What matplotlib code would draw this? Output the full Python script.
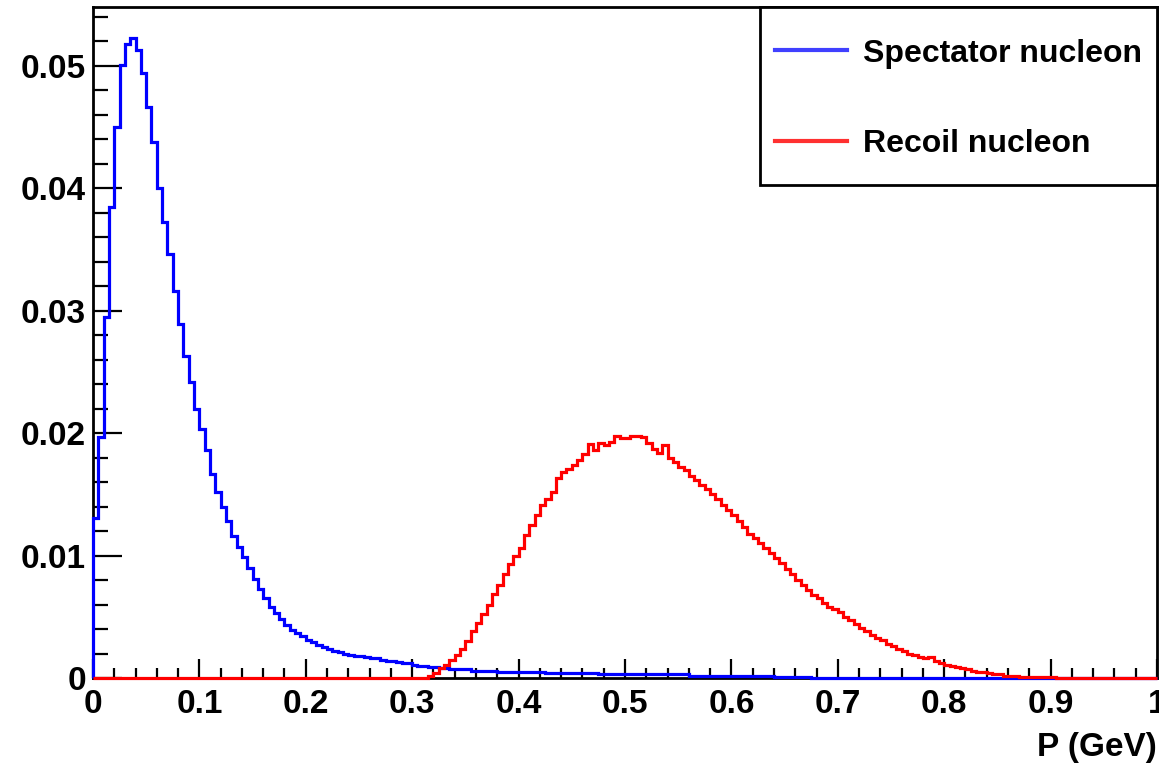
import numpy as np
import matplotlib
matplotlib.use("Agg")
from matplotlib import pyplot as plt
from matplotlib.lines import Line2D
from matplotlib.patches import Rectangle
from matplotlib.ticker import MultipleLocator

# histogram contents, 200 bins of 0.005 GeV between 0 and 1
spectator = ([0.0131, 0.0197, 0.0295, 0.0385, 0.0450, 0.0501, 0.0518, 0.0523, 0.0513, 0.0494,
              0.0466, 0.0438, 0.0400, 0.0372, 0.0346, 0.0316, 0.0289, 0.0263, 0.0242, 0.0220,
              0.0203, 0.0186, 0.0167, 0.0152, 0.0140, 0.0128, 0.0116, 0.0107, 0.0099, 0.0090,
              0.0081, 0.0073, 0.0065, 0.0058, 0.0053, 0.0048, 0.0043, 0.0039, 0.0037, 0.0034,
              0.0031, 0.0029, 0.0027, 0.0025, 0.0024, 0.0022, 0.0021,
              0.0020, 0.0019, 0.0018, 0.0018, 0.0017, 0.0016, 0.0016, 0.0015, 0.0014, 0.0014,
              0.0013, 0.0012, 0.0012, 0.0011, 0.0010, 0.0010, 0.0009, 0.0009, 0.0008,
              0.0008, 0.0007, 0.0007, 0.0007, 0.0007, 0.0006, 0.0006, 0.0006, 0.0006, 0.0006,
              0.0005, 0.0005, 0.0005, 0.0005,
              0.0005, 0.0005, 0.0005, 0.0005, 0.0005, 0.0004, 0.0004, 0.0004, 0.0004, 0.0004,
              0.0004, 0.0004, 0.0004, 0.0004, 0.0004, 0.0003, 0.0003, 0.0003, 0.0003, 0.0003,
              0.0003, 0.0003, 0.0003, 0.0003, 0.0003, 0.0003, 0.0003, 0.0003, 0.0003, 0.0003,
              0.0003, 0.0003, 0.0002, 0.0002, 0.0002, 0.0002, 0.0002, 0.0002, 0.0002, 0.0002,
              0.0002, 0.0002, 0.0002, 0.0002, 0.0002, 0.0002, 0.0002, 0.0002,
              0.0001, 0.0001, 0.0001, 0.0001, 0.0001, 0.0001, 0.0001]
             + [0.0] * 65)

recoil = ([0.0] * 63
          + [0.0002, 0.0004, 0.0008, 0.0011, 0.0015, 0.0019, 0.0024,
             0.0030, 0.0038, 0.0045, 0.0052, 0.0060, 0.0069, 0.0076, 0.0085, 0.0093, 0.0100,
             0.0106, 0.0117, 0.0125, 0.0133, 0.0141, 0.0146, 0.0152, 0.0163, 0.0168, 0.0171,
             0.0174, 0.0178, 0.0183, 0.0191, 0.0186, 0.0192, 0.0190, 0.0193, 0.0198, 0.0196,
             0.0196, 0.0198, 0.0198, 0.0197, 0.0192, 0.0187, 0.0184, 0.0190, 0.0180, 0.0176,
             0.0172, 0.0170, 0.0165, 0.0162, 0.0158, 0.0154, 0.0150, 0.0146, 0.0141, 0.0137,
             0.0133, 0.0128, 0.0123, 0.0118, 0.0114, 0.0110, 0.0106, 0.0102, 0.0098, 0.0094,
             0.0089, 0.0085, 0.0080, 0.0076, 0.0072, 0.0068, 0.0065, 0.0061, 0.0058, 0.0056,
             0.0054, 0.0050, 0.0047, 0.0044, 0.0041, 0.0038, 0.0035, 0.0033, 0.0031, 0.0028,
             0.0026, 0.0024, 0.0022, 0.0020, 0.0019, 0.0017, 0.0016, 0.0017, 0.0014, 0.0012,
             0.0011, 0.0010, 0.0009, 0.0008, 0.0007, 0.0006, 0.0005, 0.0005, 0.0004, 0.0003,
             0.0003, 0.0002, 0.0002, 0.0002,
             0.0001, 0.0001, 0.0001, 0.0001, 0.0001, 0.0001, 0.0001]
          + [0.0] * 19)

labels = ["Spectator nucleon", "Recoil nucleon"]
xtick_labels = ["0", "0.1", "0.2", "0.3", "0.4", "0.5", "0.6", "0.7", "0.8", "0.9", "1"]
ytick_labels = ["0", "0.01", "0.02", "0.03", "0.04", "0.05"]

edges = np.linspace(0.0, 1.0, len(spectator) + 1)

plt.rcParams['font.family'] = ['Liberation Sans', 'DejaVu Sans']
plt.rcParams['font.weight'] = 'bold'

fig = plt.figure(figsize=(11.59, 7.68), dpi=100)
ax = fig.add_axes([0.0802, 0.1172, 0.9181, 0.8737])

# drawn above the frame so the zero-level line shows along the x axis, like ROOT
ax.stairs(spectator, edges, color='#0000ff', lw=2.3, zorder=3, clip_on=False)
ax.stairs(recoil, edges, color='#ff0000', lw=2.3, zorder=3.1, clip_on=False)

ax.set_xlim(0, 1)
ax.set_ylim(0, 0.0548)

ax.xaxis.set_major_locator(MultipleLocator(0.1))
ax.xaxis.set_minor_locator(MultipleLocator(0.02))
ax.yaxis.set_major_locator(MultipleLocator(0.01))
ax.yaxis.set_minor_locator(MultipleLocator(0.002))
ax.set_xticks(np.arange(0, 1.01, 0.1), xtick_labels)
ax.set_yticks(np.arange(0, 0.051, 0.01), ytick_labels)

ax.tick_params(axis='both', which='both', direction='in', colors='black',
               labelsize=24, width=1.6, top=False, right=False)
ax.tick_params(axis='y', which='major', length=21, pad=5)
ax.tick_params(axis='y', which='minor', length=11)
ax.tick_params(axis='x', which='major', length=14, pad=8)
ax.tick_params(axis='x', which='minor', length=7)
for lab in ax.get_xticklabels() + ax.get_yticklabels():
    lab.set_fontweight('bold')

for sp in ax.spines.values():
    sp.set_linewidth(2.0)
    sp.set_color('black')

ax.set_xlabel("P (GeV)", fontsize=24, fontweight='bold')
ax.xaxis.set_label_coords(1.0, -0.104)
ax.xaxis.label.set_ha('right')
ax.xaxis.label.set_va('center')

# legend frame like the ROOT TLegend box
box = Rectangle((0.627, 0.7347), 0.373, 0.2653, transform=ax.transAxes,
                facecolor='white', edgecolor='black', lw=2.0, zorder=4, clip_on=False)
ax.add_patch(box)

handles = [Line2D([], [], color='#4040ff', lw=3),
           Line2D([], [], color='#ff3030', lw=3)]
leg = ax.legend(handles, labels, loc='upper left', bbox_to_anchor=(0.641, 0.953),
                prop={'size': 23, 'weight': 'bold'}, frameon=False,
                borderpad=0.0, labelspacing=1.9, handlelength=2.25, handletextpad=0.5,
                borderaxespad=0.0)
leg.set_zorder(5)

fig.savefig("out.png", dpi=100)
